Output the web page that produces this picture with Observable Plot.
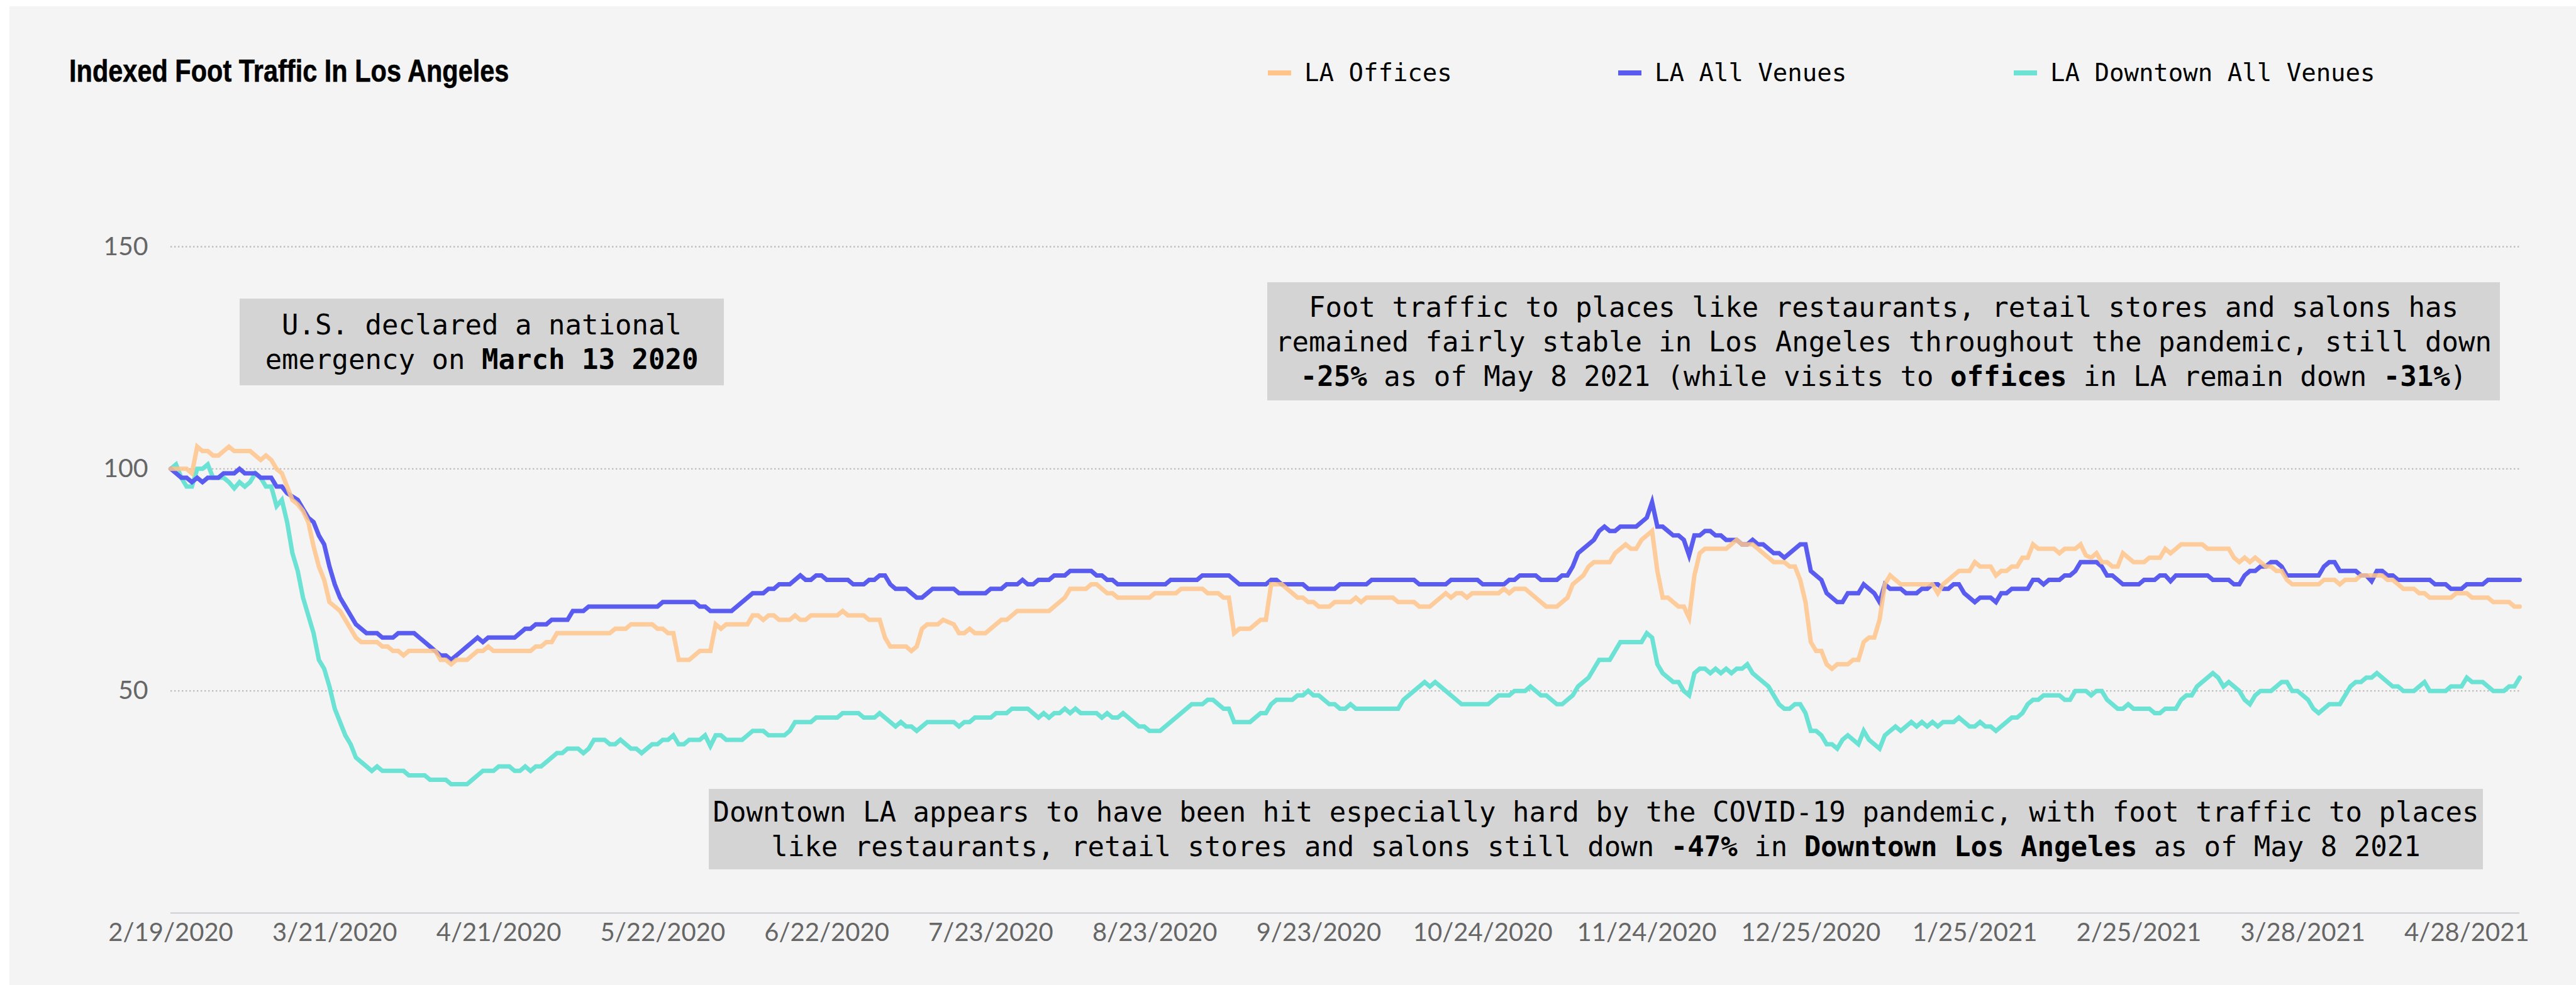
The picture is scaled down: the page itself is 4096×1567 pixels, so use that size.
<!DOCTYPE html>
<html><head><meta charset="utf-8">
<script src="https://cdn.jsdelivr.net/npm/d3@7"></script>
<script src="https://cdn.jsdelivr.net/npm/@observablehq/plot@0.6"></script>
<style>
html,body{margin:0;padding:0;background:#fff;}
#wrap{position:relative;width:4096px;height:1567px;overflow:hidden;}
#panel{position:absolute;left:15px;top:10px;right:0;bottom:0;background:#f4f4f4;}
#chart{position:absolute;left:0;top:0;}
#title{position:absolute;left:110px;top:88px;font:700 50px/50px "Liberation Sans",Arial,sans-serif;color:#000;white-space:nowrap;transform:scaleX(0.83);transform-origin:0 0;-webkit-text-stroke:0.6px #000;}
.leg{position:absolute;top:96px;height:39px;display:flex;align-items:center;font:39px/39px "DejaVu Sans Mono",monospace;color:#000;white-space:nowrap;}
.sw{width:37px;height:8px;margin-right:21px;}
.note{position:absolute;background:#d4d4d4;display:flex;align-items:center;justify-content:center;color:#000;}
.note div{text-align:center;font:44px/55px "DejaVu Sans Mono",monospace;white-space:pre;}
.note b{font-weight:700;}
</style></head>
<body><div id="wrap"><div id="panel"></div><div id="chart"></div>
<div id="title"></div>
<div id="legend"></div>
<div id="notes"></div>
</div>
<script>
const chartTitle = "Indexed Foot Traffic In Los Angeles";
const seriesNames = ["LA Offices", "LA All Venues", "LA Downtown All Venues"];
const seriesColors = ["#fec489", "#5a5cf0", "#6ce2d4"];
const startDate = "2/19/2020";
const xTickLabels = ["2/19/2020","3/21/2020","4/21/2020","5/22/2020","6/22/2020","7/23/2020","8/23/2020","9/23/2020","10/24/2020","11/24/2020","12/25/2020","1/25/2021","2/25/2021","3/28/2021","4/28/2021"];
const endDate = "5/8/2021";
const yTicks = [50, 100, 150];

// [days since 2/19/2020, index value]
const officesData = [[0,100],[3,100],[4,99],[5,105],[6,104],[7,104],[8,103],[9,103],[10,104],[11,105],[12,104],[15,104],[16,103],[17,102],[18,103],[19,102],[20,100],[21,99],[22,96],[23,93],[24,92],[25,90.5],[26,88],[27,82.5],[28,78],[29,75],[30,70],[31,69],[32,68],[33,66],[34,64],[35,62],[36,61],[39,61],[40,60],[41,60],[42,59],[43,59],[44,58],[45,59],[50,59],[51,57],[52,57],[53,56],[54,57],[56,57],[57,58],[58,59],[59,59],[60,60],[61,59],[68,59],[69,60],[70,60],[71,61],[72,61],[73,63],
[83,63],[84,64],[86,64],[87,65],[91,65],[92,64],[93,64],[94,63],[95,63],[96,57],[98,57],[100,59],[102,59],[103,65],[104,64],[105,65],[109,65],[110,67],[111,67],[112,66],[113,67],[114,67],[115,66],[117,66],[118,67],[119,66],[120,66],[121,67],[126,67],[127,68],[128,67],[131,67],[132,66],[134,66],[135,62],[136,60],[139,60],[140,59],[141,60],[142,64],[143,65],[145,65],[146,66],
[148,65],[149,63],[150,63],[151,64],[152,63],[154,63],[157,66],[158,66],[160,68],[166,68],[169,71],[170,73],[173,73],[174,74],[175,74],[177,72],[178,72],[179,71],[185,71],[186,72],[190,72],[191,73],[195,73],[196,72],[198,72],[199,71],[200,71],[201,63],[202,64],[204,64],[206,66],[207,66],[208,74],[210,74],[213,71],[214,71],[215,70],[216,70],[217,69],[219,69],[220,70],[223,70],
[224,71],[225,70],[226,71],[231,71],[232,70],[235,70],[236,69],[238,69],[241,72],[242,71],[243,72],[244,72],[245,71],[246,72],[251,72],[252,73],[253,72],[254,73],[256,73],[260,69],[262,69],[264,71],[265,74],[267,76],[268,78],[269,79],[272,79],[273,81],[275,83],[276,82],[277,82],[278,84],[280,86],[281,77],[282,71],[283,71],[285,69],[286,69],[287,66.5],[288,76],[289,81],[290,82],[294,82],[296,84],[297,83],
[299,83],[301,81],[303,79],[305,79],[306,78],[307,78],[308,75],[309,70],[310,61],[311,59],[312,59],[313,56],[314,55],[315,56],[317,56],[318,57],[319,57],[320,61],[321,62],[322,62],[323,66],[324,74],[325,76],[327,74],[333,74],[334,72],[335,74],[338,77],[340,77],[341,79],[342,78],[344,78],[345,76],[346,77],[347,77],[348,78],[349,78],[350,80],[351,80],[352,83],[353,82],[356,82],[357,81],[358,82],[360,82],[361,83],[362,80.5],[363,80],[364,81],[365,79],[366,79],[367,78],[368,78],[369,81],[371,79],[373,79],
[374,80],[376,80],[377,82],[378,81],[380,83],[384,83],[385,82],[389,82],[390,80],[391,79],[392,80],[393,79],[394,80],[396,78],[397,78],[398,77],[399,77],[400,75],[401,74],[406,74],[407,75],[409,75],[410,74],[411,75],[413,75],[414,76],[418,76],[419,75],[420,75],[422,73],[424,73],[425,72],[426,72],[427,71],[431,71],[432,72],[434,72],[435,71],[438,71],[439,70],[442,70],[443,69],[444,69]];

const allVenuesData = [[0,100],[1,99],[2,98],[3,98],[4,97],[5,98],[6,97],[7,98],[9,98],[10,99],[12,99],[13,100],[14,99],[16,99],[17,98],[19,98],[20,96],[21,96],[22,94.5],[24,93],[25,91],[26,89],[27,88],[28,85],[29,83],[30,78],[31,74],[32,71],[33,69],[34,67],[35,65],[36,64],[37,63],[39,63],[40,62],[42,62],[43,63],[46,63],[47,62],[48,61],[49,60],[50,59],[51,58],[52,58],[53,57],[54,58],[55,59],[56,60],[57,61],[58,62],[59,61],[60,62],[65,62],[66,63],[67,64],[68,64],[69,65],[71,65],[72,66],[73,66],
[75,66],[76,68],[78,68],[79,69],[92,69],[93,70],[99,70],[100,69],[101,69],[102,68],[106,68],[110,72],[112,72],[113,73],[114,73],[115,74],[117,74],[119,76],[120,75],[121,75],[122,76],[123,76],[124,75],[128,75],[129,74],[131,74],[132,75],[133,75],[134,76],[135,76],[136,74],[137,73],[139,73],[140,72],[141,71],[142,71],[143,72],[144,73],[148,73],
[149,72],[154,72],[155,73],[157,73],[158,74],[160,74],[161,75],[162,74],[163,74],[164,75],[166,75],[167,76],[169,76],[170,77],[174,77],[175,76],[176,76],[177,75],[178,75],[179,74],[188,74],[189,75],[194,75],[195,76],[200,76],[201,75],[202,74],[207,74],[208,75],[209,75],[210,74],[214,74],[215,73],[220,73],[221,74],
[226,74],[227,75],[235,75],[236,74],[241,74],[242,75],[247,75],[248,74],[252,74],[253,75],[254,75],[255,76],[258,76],[259,75],[262,75],[263,76],[264,76],[265,78],[266,81],[267,82],[268,83],[269,84],[270,86],[271,87],[272,86],[273,86],[274,87],[277,87],[278,88],[279,89],[280,92.5],[281,87],[282,87],[283,86],[284,85],[285,85],[286,84],[287,80.5],[288,85],[289,85],[290,86],[291,86],[292,85],[293,85],[294,84],[296,84],[297,83],
[298,83],[299,84],[300,83],[301,83],[303,81],[304,81],[305,80],[308,83],[309,83],[310,77],[312,75],[313,72],[315,70],[316,70],[317,72],[319,72],[320,74],[322,72],[323,70],[324,74],[325,73],[327,73],[328,72],[330,72],[331,73],[332,73],[333,74],[334,74],[335,73],[336,73],[337,74],[338,74],[339,72],[341,70],[342,71],[344,71],[345,70],[346,72],[347,72],[348,73],[351,73],[352,75],[353,75],[354,74],[355,75],[357,75],[358,76],[359,76],[360,77],[361,79],[364,79],[365,78],[366,76],[367,76],[369,74],[372,74],
[373,75],[375,75],[376,76],[377,76],[378,74.7],[379,76],[385,76],[386,75],[389,75],[390,74],[391,74],[392,76],[393,77],[394,77],[395,78],[396,78],[397,79],[398,79],[399,78],[400,76],[406,76],[407,78],[408,79],[409,79],[410,77],[413,77],[414,76],[415,76],[416,74.7],[417,77],[418,77],[419,76],[420,76],[421,75],[427,75],[428,74],[430,74],[431,73],[433,73],[434,74],[437,74],[438,75],[444,75]];

const downtownData = [[0,100],[1,101],[2,98],[3,96],[4,96],[5,100],[6,100],[7,101],[8,98],[10,98],[11,97],[12,95.6],[13,97],[14,96],[15,97],[16,99],[17,98],[18,96],[19,96],[20,91.6],[21,93],[22,88],[23,81],[24,77],[25,71],[26,67],[27,63],[28,57],[29,55],[30,51],[31,46],[32,43],[33,40],[34,38],[35,35],[36,34],[37,33],[38,32],[39,33],[40,32],[44,32],[45,31],[48,31],[49,30],[52,30],[53,29],[56,29],[57,30],[58,31],[59,32],[61,32],[62,33],[64,33],[65,32],[66,32],[67,33],[68,32],[69,33],[70,33],[71,34],[73,36],
[74,36],[75,37],[77,37],[78,36],[79,37],[80,39],[82,39],[83,38],[84,38],[85,39],[86,38],[87,37],[88,37],[89,36],[90,37],[91,38],[92,38],[93,39],[94,39],[95,40],[96,38],[97,38],[98,39],[100,39],[101,40],[102,37.6],[103,40],[104,40],[105,39],[108,39],[109,40],[110,41],[112,41],[113,40],[116,40],[117,41],[118,43],[121,43],[122,44],[126,44],[127,45],[130,45],[131,44],[133,44],[134,45],[135,44],[136,43],[137,42],[138,43],[139,42],[140,42],[141,41],[142,42],[143,43],[148,43],
[149,42],[150,43],[151,43],[152,44],[155,44],[156,45],[158,45],[159,46],[162,46],[164,44],[165,45],[166,44],[167,45],[168,45],[169,46],[170,45],[171,46],[172,45],[175,45],[176,44],[177,45],[178,44],[179,44],[180,45],[183,42],[184,42],[185,41],[187,41],[193,47],[195,47],[196,48],[197,48],[199,46],[200,46],[201,43],[204,43],[206,45],[207,45],[208,47],[209,48],[212,48],[213,49],[214,49],[215,50],[216,49],[217,49],[219,47],[220,47],[221,46],[222,46],[223,47],
[224,46],[232,46],[233,48],[237,52],[238,51],[239,52],[244,47],[249,47],[251,49],[253,49],[254,50],[256,50],[257,51],[259,49],[260,49],[262,47],[263,47],[265,49],[266,51],[268,53],[270,57],[272,57],[274,61],[278,61],[279,63],[280,62],[281,56],[282,54],[284,52],[285,52],[286,50],[287,49],[288,54],[289,55],[290,55],[291,54],[292,55],[293,54],[294,55],[295,54],[296,55],[297,55],
[298,56],[299,54],[302,51],[304,47],[305,46],[306,46],[307,47],[308,47],[309,45],[310,41],[311,41],[312,40],[313,38],[314,38],[315,37],[316,39],[317,40],[319,38],[320,41],[321,39],[323,37],[324,40],[326,42],[327,41],[329,43],[330,42],[331,43],[332,42],[333,43],[334,42],[335,43],[337,43],[338,44],[340,42],[341,42],[342,43],[343,42],[344,42],[345,41],[348,44],[349,44],[350,45],[351,47],[352,48],[353,48],[354,49],[357,49],[358,48],[359,48],[360,50],[362,50],[363,49],[364,50],[365,50],[366,48],[368,46],[369,46],[370,47],[371,46],[372,46],
[374,46],[375,45],[376,45],[377,46],[379,46],[380,48],[381,49],[382,49],[383,51],[386,54],[387,53],[388,51],[389,52],[391,50],[392,48],[393,47],[394,49],[395,50],[397,50],[399,52],[400,52],[401,50],[402,50],[404,48],[405,46],[406,45],[408,47],[410,47],[412,51],[413,52],[414,52],[415,53],[416,53],[417,54],[420,51],[421,51],[422,50],[424,50],[426,52],[427,50],[430,50],[431,51],[433,51],[434,53],[435,52],[437,52],[439,50],[441,50],[442,51],[443,51],[444,53]];

const notes = [
  {left:381, top:475, width:770, height:138, html:"U.S. declared a national\nemergency on <b>March 13 2020</b>"},
  {left:2015, top:449, width:1960, height:188, html:"Foot traffic to places like restaurants, retail stores and salons has\nremained fairly stable in Los Angeles throughout the pandemic, still down\n<b>-25%</b> as of May 8 2021 (while visits to <b>offices</b> in LA remain down <b>-31%</b>)"},
  {left:1127, top:1255, width:2821, height:128, html:"Downtown LA appears to have been hit especially hard by the COVID-19 pandemic, with foot traffic to places\nlike restaurants, retail stores and salons still down <b>-47%</b> in <b>Downtown Los Angeles</b> as of May 8 2021"}
];

const parse = d3.utcParse("%m/%d/%Y");
const t0 = parse(startDate);
const toRows = arr => arr.map(([d, v]) => ({date: d3.utcDay.offset(t0, d), value: v}));
const datasets = [officesData, allVenuesData, downtownData].map(toRows);

const lineOpts = {x: "date", y: "value", strokeWidth: 7, strokeLinejoin: "miter", strokeMiterlimit: 4};
const chart = Plot.plot({
  width: 4096, height: 1567,
  marginLeft: 271, marginRight: 90, marginTop: 392, marginBottom: 115,
  style: {background: "transparent", fontFamily: "Lato, 'Open Sans', sans-serif", color: "#666"},
  x: {type: "utc", domain: [t0, parse(endDate)]},
  y: {domain: [0, 150]},
  marks: [
    Plot.gridY(yTicks, {stroke: "#bdbdbd", strokeOpacity: 1, strokeWidth: 2.4, strokeDasharray: "2.4,3.6"}),
    Plot.ruleY([0], {stroke: "#c9cdd1", strokeWidth: 2.2}),
    Plot.axisY(yTicks, {tickSize: 0, tickPadding: 36, fontSize: 41, fill: "#666", label: null}),
    Plot.axisX(xTickLabels.map(parse), {tickSize: 0, tickPadding: 16, fontSize: 40, fill: "#666", label: null, tickFormat: d3.utcFormat("%-m/%-d/%Y")}),
    Plot.line(datasets[2], {...lineOpts, stroke: seriesColors[2]}),
    Plot.line(datasets[1], {...lineOpts, stroke: seriesColors[1]}),
    Plot.line(datasets[0], {...lineOpts, stroke: seriesColors[0], strokeOpacity: 0.85})
  ]
});
document.getElementById("chart").appendChild(chart);

document.getElementById("title").textContent = chartTitle;
const legendX = [[2016, 2074], [2573, 2631], [3202, 3261]];
const leg = document.getElementById("legend");
seriesNames.forEach((n, i) => {
  const d = document.createElement("div");
  d.className = "leg";
  d.style.left = legendX[i][0] + "px";
  d.innerHTML = `<span class="sw" style="background:${seriesColors[i]}"></span><span>${n}</span>`;
  leg.appendChild(d);
});
const nb = document.getElementById("notes");
notes.forEach(n => {
  const d = document.createElement("div");
  d.className = "note";
  Object.assign(d.style, {left: n.left + "px", top: n.top + "px", width: n.width + "px", height: n.height + "px"});
  const inner = document.createElement("div");
  inner.innerHTML = n.html;
  d.appendChild(inner);
  nb.appendChild(d);
});
</script></body></html>
